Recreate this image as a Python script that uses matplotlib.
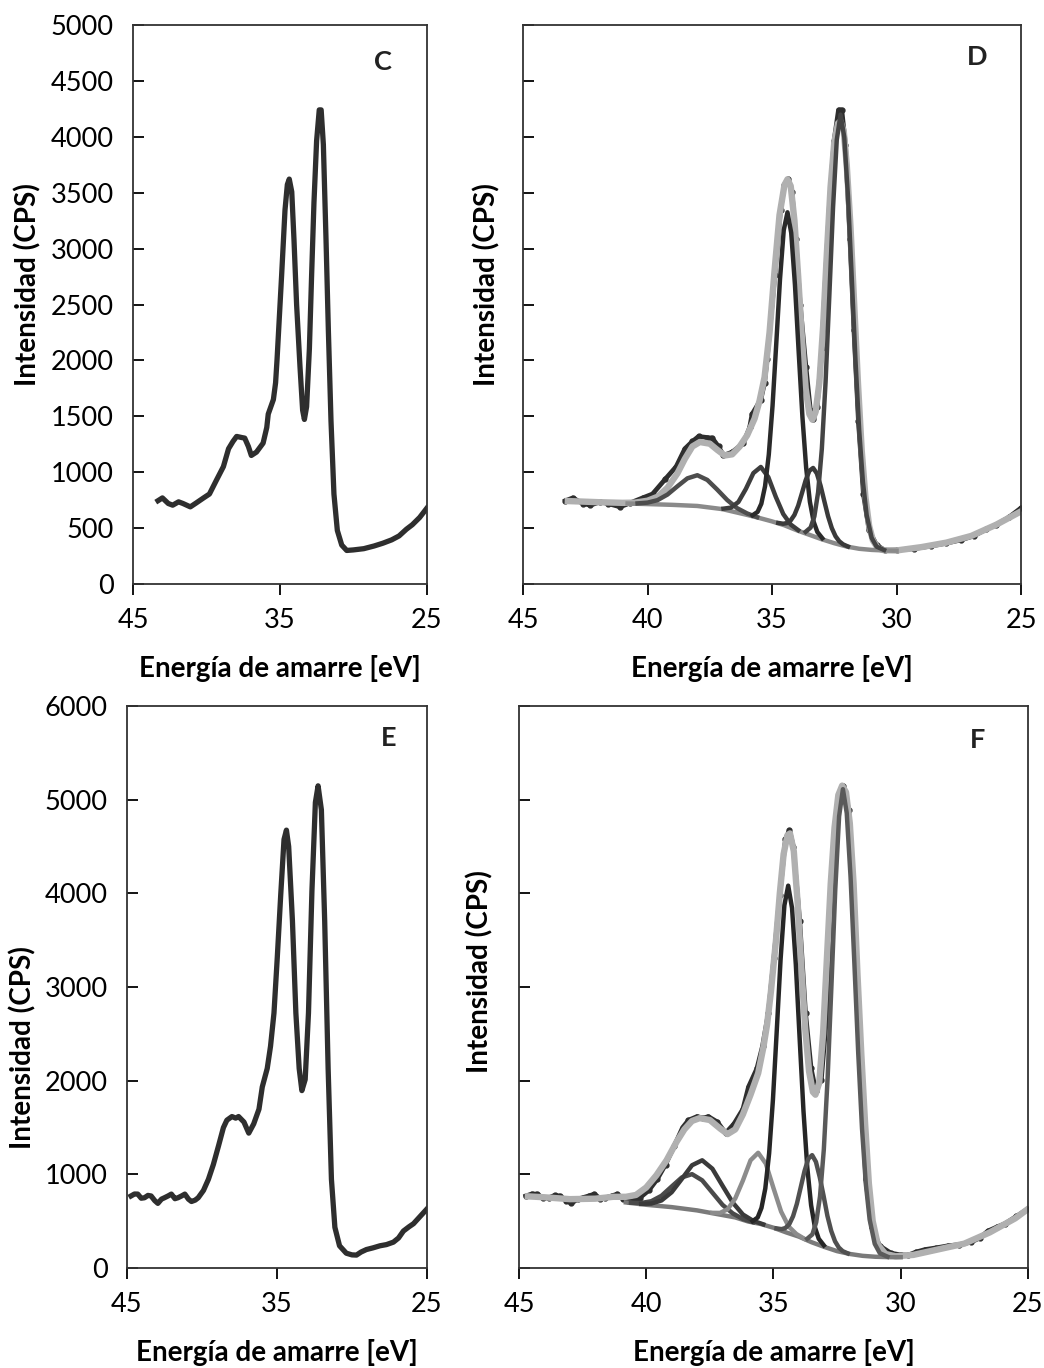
import matplotlib
matplotlib.use('Agg')
import matplotlib.pyplot as plt

plt.rcParams['font.family'] = ['Lato', 'DejaVu Sans']

# ---- espectro C / D (mismo espectro, D con ajuste) ----
spec_c_e = [43.3, 43.0, 42.6, 42.3, 41.9, 41.6, 41.1, 40.7, 40.2, 39.8, 39.3, 38.85, 38.5, 38.2,
            37.95, 37.6, 37.4, 37.15, 36.95, 36.6, 36.15, 35.9, 35.8, 35.45, 35.3, 35.2, 34.89,
            34.66, 34.5, 34.37, 34.2, 34.05, 33.87, 33.64, 33.46, 33.34, 33.19, 33.0, 32.85,
            32.69, 32.51, 32.33, 32.2, 32.05, 31.87, 31.71, 31.53, 31.33, 31.1, 30.8, 30.46,
            30.0, 29.3, 28.6, 28.0, 27.4, 26.9, 26.4, 26.0, 25.5, 25.0]
spec_c_i = [745, 770, 720, 705, 735, 720, 690, 725, 770, 805, 935, 1050, 1210, 1275,
            1320, 1310, 1305, 1230, 1150, 1180, 1260, 1400, 1520, 1650, 1800, 2010, 2760,
            3345, 3573, 3622, 3508, 3084, 2498, 1944, 1554, 1472, 1586, 2107, 2759,
            3410, 3964, 4241, 4241, 3931, 3084, 2270, 1456, 804, 479, 348, 300,
            305, 316, 340, 365, 395, 430, 490, 530, 595, 680]

# ajuste total (gris) panel D
fit_d_e = [43.2, 42.0, 41.0, 40.5, 40.0, 39.6, 39.2, 38.8, 38.5, 38.2, 37.9, 37.5, 37.2, 36.9,
           36.6, 36.3, 36.0, 35.7, 35.5, 35.3, 35.1, 34.9, 34.7, 34.5, 34.38, 34.25, 34.1,
           33.95, 33.8, 33.65, 33.5, 33.38, 33.25, 33.1, 32.95, 32.8, 32.65, 32.5, 32.35,
           32.25, 32.12, 32.0, 31.85, 31.7, 31.55, 31.4, 31.25, 31.1, 30.95, 30.75, 30.5,
           30.0, 29.0, 28.0, 27.0, 26.0, 25.0]
fit_d_i = [742, 732, 726, 728, 745, 780, 860, 990, 1120, 1230, 1270, 1255, 1200, 1150,
           1160, 1230, 1330, 1480, 1640, 1850, 2250, 2800, 3300, 3570, 3620, 3560, 3250,
           2750, 2200, 1750, 1520, 1470, 1540, 1800, 2300, 2950, 3550, 3950, 4120,
           4140, 4050, 3750, 3200, 2500, 1800, 1200, 780, 520, 390, 320, 302,
           300, 330, 370, 430, 530, 650]

bg_d_e = [40.8, 40.0, 39.0, 38.0, 37.0, 36.0, 35.5, 35.0, 34.5, 34.0, 33.5, 33.0, 32.5,
          32.0, 31.5, 31.0, 30.5, 30.0]
bg_d_i = [720, 715, 708, 698, 670, 618, 590, 560, 525, 480, 440, 400, 365,
          335, 315, 305, 300, 298]

d1_e = [40.4, 40.0, 39.6, 39.2, 38.8, 38.4, 38.0, 37.6, 37.2, 36.8, 36.4, 36.0, 35.6]
d1_i = [721, 728, 750, 800, 874, 945, 973, 931, 844, 751, 678, 631, 598]

d2_e = [36.95, 36.65, 36.35, 36.05, 35.75, 35.45, 35.15, 34.85, 34.55, 34.25, 33.95]
d2_i = [674, 683, 734, 851, 992, 1047, 956, 780, 626, 532, 482]

d3_e = [35.78, 35.58, 35.43, 35.28, 35.13, 34.98, 34.83, 34.68, 34.53, 34.38, 34.23,
        34.08, 33.93, 33.78, 33.63, 33.48, 33.33, 33.18, 32.98]
d3_i = [615, 645, 718, 875, 1158, 1593, 2151, 2727, 3165, 3325, 3141,
        2677, 2076, 1496, 1040, 736, 558, 465, 409]

d4_e = [34.75, 34.55, 34.4, 34.25, 34.1, 33.95, 33.8, 33.65, 33.5, 33.35, 33.2,
        33.05, 32.9, 32.75, 32.6, 32.45, 32.3, 32.15, 31.95]
d4_i = [546, 539, 545, 569, 618, 700, 812, 927, 1013, 1038, 989,
        879, 741, 606, 500, 427, 382, 355, 335]

d5_e = [33.65, 33.45, 33.3, 33.15, 33.0, 32.85, 32.7, 32.55, 32.4, 32.25, 32.1,
        31.95, 31.8, 31.65, 31.5, 31.35, 31.2, 31.0, 30.8, 30.5]
d5_i = [467, 505, 605, 820, 1209, 1806, 2573, 3367, 3973, 4199, 3999,
        3467, 2748, 2006, 1374, 913, 616, 413, 334, 304]

# ---- espectro E / F ----
spec_e_e = [44.73, 44.5, 44.28, 44.05, 43.83, 43.6, 43.39, 43.15, 42.94, 42.7, 42.5, 42.25,
            42.04, 41.8, 41.6, 41.35, 41.14, 40.9, 40.7, 40.45, 40.25, 39.9, 39.57, 39.24,
            38.9, 38.57, 38.34, 38.0, 37.75, 37.56, 37.2, 36.88, 36.55, 36.2, 35.98, 35.65,
            35.43, 35.2, 34.98, 34.75, 34.53, 34.37, 34.22, 33.97, 33.74, 33.52, 33.34,
            33.12, 32.9, 32.67, 32.44, 32.26, 32.04, 31.82, 31.59, 31.37, 31.14, 30.83,
            30.38, 30.0, 29.7, 29.4, 29.04, 28.6, 28.14, 27.7, 27.24, 26.9, 26.57, 26.2,
            25.9, 25.45, 25.0]
spec_e_i = [769, 790, 789, 745, 750, 775, 769, 720, 690, 735, 750, 770,
            789, 740, 750, 770, 789, 735, 710, 725, 750, 828, 947, 1105,
            1302, 1499, 1578, 1617, 1600, 1617, 1558, 1440, 1539, 1696, 1933, 2130,
            2367, 2722, 3314, 3984, 4576, 4675, 4500, 3708, 2722, 2130, 1894,
            2012, 2722, 4024, 4971, 5148, 4892, 3708, 2130, 947, 434, 237,
            158, 140, 138, 170, 197, 215, 237, 250, 276, 320, 395, 440,
            473, 552, 631]

fit_f_e = [44.65, 44.0, 43.0, 42.0, 41.3, 40.8, 40.4, 40.0, 39.6, 39.2, 38.8, 38.5, 38.2,
           37.9, 37.5, 37.1, 36.8, 36.5, 36.2, 35.9, 35.6, 35.4, 35.25, 35.1, 34.9, 34.75,
           34.6, 34.45, 34.35, 34.2, 34.05, 33.9, 33.75, 33.6, 33.45, 33.35, 33.2, 33.05,
           32.9, 32.75, 32.6, 32.45, 32.3, 32.15, 32.0, 31.85, 31.7, 31.55, 31.4, 31.25,
           31.1, 30.9, 30.6, 30.2, 29.5, 28.5, 27.5, 26.5, 25.5, 25.0]
fit_f_i = [765, 755, 735, 740, 760, 760, 780, 860, 990, 1150, 1350, 1480, 1570,
           1600, 1580, 1490, 1430, 1480, 1640, 1850, 2080, 2350, 2600, 2950, 3500, 4000,
           4420, 4620, 4640, 4450, 3900, 3200, 2550, 2100, 1880, 1850, 1980, 2500,
           3300, 4100, 4700, 5050, 5150, 5080, 4750, 4100, 3150, 2300, 1550, 900,
           500, 250, 150, 125, 140, 200, 260, 380, 530, 630]

bg_f_e = [40.8, 40.0, 39.0, 38.0, 37.3, 36.5, 36.0, 35.5, 35.0, 34.5, 34.0, 33.5, 33.0,
          32.5, 32.0, 31.5, 31.0, 30.5, 30.0]
bg_f_i = [700, 675, 650, 615, 580, 540, 497, 470, 430, 380, 335, 275, 225,
          180, 150, 130, 120, 116, 115]

f1_e = [40.6, 40.2, 39.8, 39.4, 39.0, 38.6, 38.2, 37.8, 37.4, 37.0, 36.6, 36.2, 35.8]
f1_i = [697, 694, 713, 771, 870, 967, 1002, 936, 805, 674, 583, 523, 489]

f2_e = [40.2, 39.8, 39.4, 39.0, 38.6, 38.2, 37.8, 37.4, 37.0, 36.6, 36.2, 35.8, 35.4]
f2_i = [685, 688, 721, 809, 951, 1097, 1150, 1060, 878, 699, 571, 504, 466]

f3_e = [37.4, 37.1, 36.8, 36.5, 36.2, 35.9, 35.6, 35.3, 35.0, 34.7, 34.4, 34.1, 33.8]
f3_i = [589, 588, 627, 743, 934, 1150, 1230, 1115, 854, 603, 442, 363, 314]

f4_e = [35.82, 35.62, 35.47, 35.32, 35.17, 35.02, 34.87, 34.72, 34.57, 34.42, 34.27,
        34.12, 33.97, 33.82, 33.67, 33.52, 33.37, 33.22, 33.02]
f4_i = [500, 539, 642, 849, 1223, 1797, 2533, 3292, 3872, 4082, 3844,
        3236, 2447, 1677, 1072, 670, 434, 312, 242]

f5_e = [34.88, 34.68, 34.53, 34.38, 34.23, 34.08, 33.93, 33.78, 33.63, 33.48, 33.33,
        33.18, 33.03, 32.88, 32.73, 32.58, 32.43, 32.28, 32.08]
f5_i = [423, 415, 427, 467, 552, 685, 859, 1034, 1166, 1205, 1133,
        969, 771, 557, 396, 285, 218, 180, 156]

f6_e = [33.67, 33.47, 33.32, 33.17, 33.02, 32.87, 32.72, 32.57, 32.42, 32.27, 32.12,
        31.97, 31.82, 31.67, 31.52, 31.37, 31.22, 31.02, 30.82, 30.52]
f6_i = [313, 359, 488, 765, 1267, 2035, 3021, 4041, 4822, 5112, 4857,
        4175, 3254, 2302, 1489, 896, 517, 258, 158, 121]

xlabel = 'Energía de amarre [eV]'
ylabel = 'Intensidad (CPS)'

OSCURO = '#2e2e2e'
GRIS = '#b0b0b0'
FS = 19.5

fig = plt.figure(figsize=(10.44, 13.68), dpi=100)
ax_c = fig.add_axes([0.1274, 0.5731, 0.2816, 0.4086])
ax_d = fig.add_axes([0.5010, 0.5731, 0.4770, 0.4086])
ax_e = fig.add_axes([0.1216, 0.0731, 0.2874, 0.4108])
ax_f = fig.add_axes([0.4971, 0.0731, 0.4875, 0.4108])


def estilo(ax, ymax, ystep, xstep, etiquetas_y, letra, lx, ly, ylab_x, ylab_y):
    ax.set_xlim(45, 25)
    ax.set_ylim(0, ymax)
    ax.set_xticks(range(45, 24, -xstep))
    ax.set_yticks(range(0, ymax + 1, ystep))
    ax.tick_params(axis='y', direction='in', length=8, width=1.3, labelsize=FS,
                   labelleft=etiquetas_y, pad=14)
    ax.tick_params(axis='x', direction='out', length=8, width=1.3, labelsize=FS, pad=9)
    for s in ax.spines.values():
        s.set_color('#333333')
        s.set_linewidth(1.3)
    ax.set_xlabel(xlabel, fontsize=20, fontweight='bold')
    ax.xaxis.set_label_coords(0.5, -0.127)
    ax.set_ylabel(ylabel, fontsize=20, fontweight='bold')
    ax.yaxis.set_label_coords(ylab_x, ylab_y)
    ax.text(lx, ly, letra, transform=ax.transAxes, fontsize=FS, fontweight='bold',
            ha='center', va='center', color='#222222')


# C
ax_c.plot(spec_c_e, spec_c_i, color=OSCURO, lw=3.8, solid_joinstyle='round')
estilo(ax_c, 5000, 500, 10, True, 'C', 0.85, 0.934, -0.31, 0.535)

# D
ax_d.plot(spec_c_e, spec_c_i, color=OSCURO, lw=3.4, marker='o', ms=3.5)
ax_d.plot(fit_d_e, fit_d_i, color=GRIS, lw=4.6, solid_joinstyle='round')
ax_d.plot(bg_d_e, bg_d_i, color='#8a8a8a', lw=3.2)
ax_d.plot(d1_e, d1_i, color='#4d4d4d', lw=3.2)
ax_d.plot(d2_e, d2_i, color='#3d3d3d', lw=3.2)
ax_d.plot(d3_e, d3_i, color='#2a2a2a', lw=3.2)
ax_d.plot(d4_e, d4_i, color='#3a3a3a', lw=3.2)
ax_d.plot(d5_e, d5_i, color='#444444', lw=3.2)
estilo(ax_d, 5000, 500, 5, False, 'D', 0.912, 0.943, -0.045, 0.536)

# E
ax_e.plot(spec_e_e, spec_e_i, color=OSCURO, lw=3.8, solid_joinstyle='round')
estilo(ax_e, 6000, 1000, 10, True, 'E', 0.873, 0.943, -0.30, 0.393)

# F
ax_f.plot(spec_e_e, spec_e_i, color=OSCURO, lw=3.4, marker='o', ms=3.5)
ax_f.plot(fit_f_e, fit_f_i, color=GRIS, lw=4.6, solid_joinstyle='round')
ax_f.plot(bg_f_e, bg_f_i, color='#7a7a7a', lw=3.2)
ax_f.plot(f1_e, f1_i, color='#4a4a4a', lw=3.2)
ax_f.plot(f2_e, f2_i, color='#3a3a3a', lw=3.2)
ax_f.plot(f3_e, f3_i, color='#8c8c8c', lw=3.2)
ax_f.plot(f4_e, f4_i, color='#262626', lw=3.2)
ax_f.plot(f5_e, f5_i, color='#505050', lw=3.2)
ax_f.plot(f6_e, f6_i, color='#5a5a5a', lw=3.2)
estilo(ax_f, 6000, 1000, 5, False, 'F', 0.90, 0.94, -0.05, 0.527)

fig.savefig('out.png', dpi=100, facecolor='white')
